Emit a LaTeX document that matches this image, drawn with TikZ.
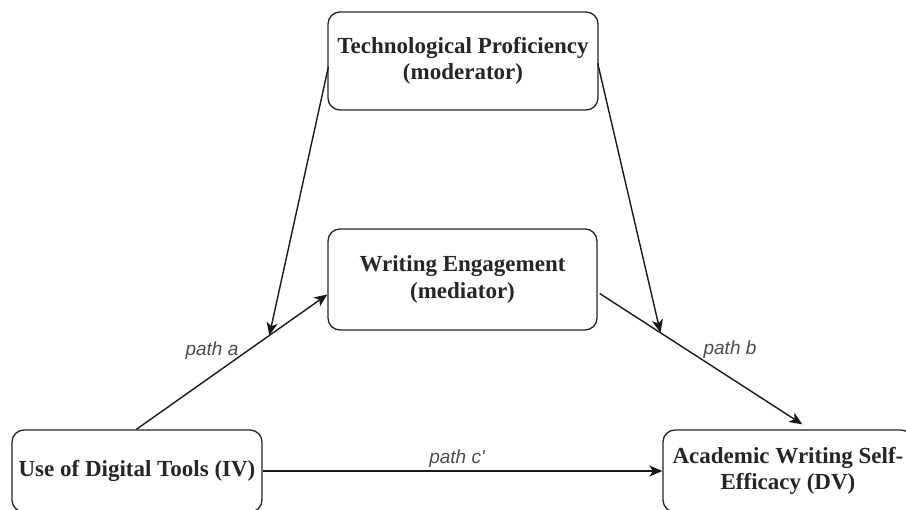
\documentclass[tikz,border=0pt]{standalone}
\usepackage{fontspec}
\setmainfont{Liberation Serif}
\newfontfamily\lblfont{Liberation Sans}
\usetikzlibrary{arrows.meta,calc}
\begin{document}
\begin{tikzpicture}[x=1pt,y=-1pt,
  box/.style={draw=black!85,line width=1.3pt,rounded corners=12pt,align=center,
    font=\fontsize{23}{26.5}\selectfont\bfseries,text=black!85,inner sep=0pt},
  conn/.style={draw=black!90,line width=1.4pt},
  arr/.style={conn,-{Stealth[length=13pt,width=11pt,inset=3.5pt]}},
  plabel/.style={font=\lblfont\itshape\fontsize{19}{22}\selectfont,text=black!70,inner sep=0pt}]
\useasboundingbox (0,0) rectangle (906,510);
\fill[white] (0,0) rectangle (906,510);
\clip (0,0) rectangle (906,510);
% boxes
\node[box,minimum width=270pt,minimum height=98pt] (mod) at (463,61) {Technological Proficiency\\(moderator)};
\node[box,minimum width=269pt,minimum height=101pt] (med) at (462.5,279.5) {Writing Engagement\\(mediator)};
\node[box,minimum width=250pt,minimum height=82pt] (iv) at (137,471) {Use of Digital Tools (IV)};
\node[box,minimum width=250pt,minimum height=82pt] (dv) at (788,471) {Academic Writing Self-\\Efficacy (DV)};
% anchor points
\coordinate (ivtop) at ($(iv.north west)+(125,0)$);
\coordinate (medleft) at ($(med.west)+(0,15)$);
\coordinate (medright) at ($(med.east)+(2,14)$);
\coordinate (dvtop) at ($(dv.north west)+(140,-5)$);
\coordinate (modleft) at ($(mod.west)+(1,6)$);
\coordinate (modright) at ($(mod.east)+(-1,2)$);
\coordinate (pa) at ($(ivtop)!0.696!(medleft)$);
\coordinate (pb) at ($(medright)!0.3!(dvtop)$);
% connectors
\draw[arr] (ivtop) -- (medleft);
\draw[arr] (medright) -- (dvtop);
\draw[arr] (modleft) -- (pa);
\draw[arr] (modright) -- (pb);
\draw[arr] (iv.east) -- (dv.west);
% labels
\node[plabel] (la) at (212,351) {path a};
\node[plabel] (lb) at (730,350) {path b};
\node[plabel] (lc) at (457,459) {path c'};
\end{tikzpicture}
\end{document}
